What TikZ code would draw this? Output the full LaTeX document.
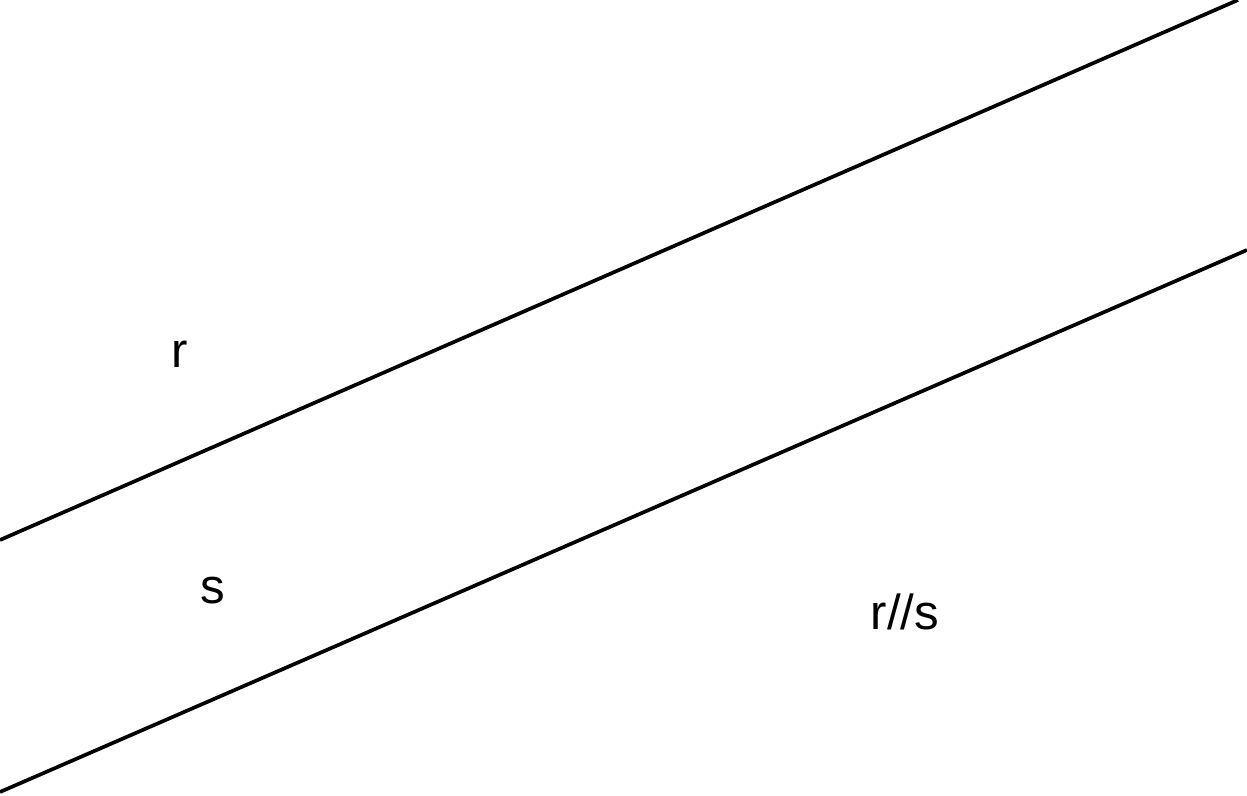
\documentclass[tikz,border=0pt]{standalone}
\usepackage{fontspec}
\setmainfont{Liberation Sans}
\usetikzlibrary{positioning}
\begin{document}
\begin{tikzpicture}
		\useasboundingbox (0,0) rectangle (24.94,15.9);
		\tikzset{lbl/.style = {anchor = base, inner sep = 0pt, font = \fontsize{28}{33}\selectfont}}
		\coordinate (r1) at (0,5.1);
		\coordinate (r2) at (24.76,15.9);
		\coordinate (s1) at (0,0.06);
		\coordinate (s2) at (24.94,10.9);
		\draw[-, line width = 2.1pt] (r1) to (r2);
		\draw[-, line width = 2.1pt] (s1) to (s2);
		\node[lbl] at (3.6,8.54) (r) {r};
		\node[lbl] at (4.26,3.84) (s) {s};
		\node[lbl] at (18.1,3.3) (rs) {r//s};
	\end{tikzpicture}
\end{document}
